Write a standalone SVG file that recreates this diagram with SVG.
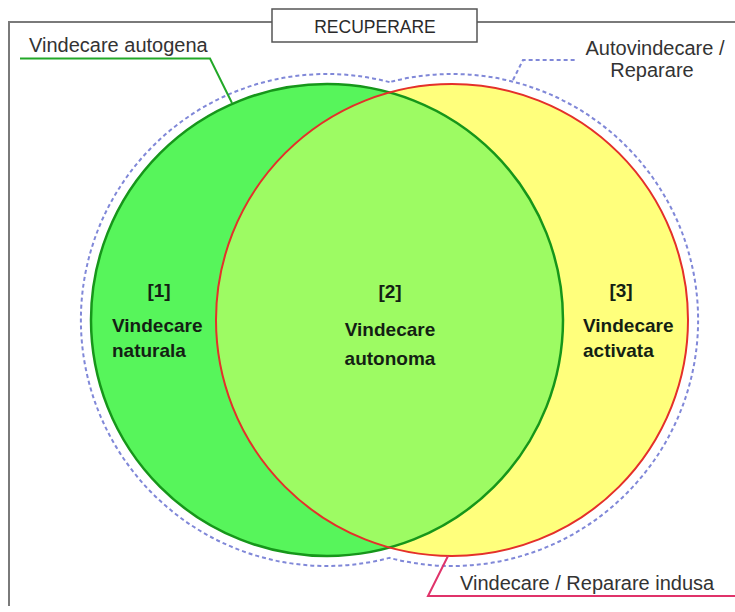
<svg xmlns="http://www.w3.org/2000/svg" width="735" height="612" viewBox="0 0 735 612">
  <defs>
    <style>
      .lbl { font-family: "Liberation Sans", Arial, sans-serif; font-size: 20px; fill: #333333; }
      .title { font-family: "Liberation Sans", Arial, sans-serif; font-size: 17.5px; fill: #2a2a2a; text-anchor: middle; }
      .inner { font-family: "Liberation Sans", Arial, sans-serif; font-size: 19px; font-weight: bold; fill: #141f14; }
      .mid { text-anchor: middle; }
      .frame { fill: none; stroke: #7a7a7a; stroke-width: 2; }
    </style>
    <clipPath id="clipGreen">
      <circle cx="327" cy="320" r="236"/>
    </clipPath>
  </defs>
  <rect x="0" y="0" width="735" height="612" fill="#ffffff"/>

  <g id="frame">
    <path class="frame" d="M9 606 L9 22 L272 22 M477 22 L735 22"/>
  </g>

  <g id="title">
    <rect x="272" y="9" width="205" height="33" fill="#ffffff" stroke="#555555" stroke-width="1.5"/>
    <text class="title" x="375" y="33">RECUPERARE</text>
  </g>

  <g id="outline">
    <path d="M389.5 82.1 A246 246 0 1 0 389.5 557.9 A246 246 0 1 0 389.5 82.1 Z" fill="none" stroke="#8088d8" stroke-width="2" stroke-dasharray="4 3"/>
  </g>

  <g id="circles">
    <circle cx="327" cy="320" r="236" fill="#57f55b"/>
    <circle cx="452" cy="320" r="236" fill="#ffff7c"/>
    <circle cx="452" cy="320" r="236" fill="#9dfb63" clip-path="url(#clipGreen)"/>
    <circle cx="327" cy="320" r="236" fill="none" stroke="#16961a" stroke-width="2.5"/>
    <circle cx="452" cy="320" r="236" fill="none" stroke="#e4302a" stroke-width="2"/>
  </g>

  <g id="connectors">
    <polyline points="20,58.5 210,58.5 232,103" fill="none" stroke="#22a828" stroke-width="2"/>
    <polyline points="513,80 523,60 575,60" fill="none" stroke="#8088d8" stroke-width="2" stroke-dasharray="4 3"/>
    <polyline points="448,556 428,596 735,596" fill="none" stroke="#e0336a" stroke-width="2"/>
  </g>

  <g id="label-autogena">
    <text class="lbl" x="29" y="52">Vindecare autogena</text>
  </g>
  <g id="label-autovindecare">
    <text class="lbl mid" x="655" y="55">Autovindecare /</text>
    <text class="lbl mid" x="652" y="77">Reparare</text>
  </g>
  <g id="label-indusa">
    <text class="lbl" x="460" y="590">Vindecare / Reparare indusa</text>
  </g>

  <g id="region-1">
    <text class="inner mid" x="159" y="297">[1]</text>
    <text class="inner" x="112" y="332">Vindecare</text>
    <text class="inner" x="112" y="357">naturala</text>
  </g>
  <g id="region-2">
    <text class="inner mid" x="390" y="298">[2]</text>
    <text class="inner mid" x="390" y="336">Vindecare</text>
    <text class="inner mid" x="390" y="365">autonoma</text>
  </g>
  <g id="region-3">
    <text class="inner mid" x="621" y="297">[3]</text>
    <text class="inner" x="583" y="332">Vindecare</text>
    <text class="inner" x="583" y="357">activata</text>
  </g>
</svg>
